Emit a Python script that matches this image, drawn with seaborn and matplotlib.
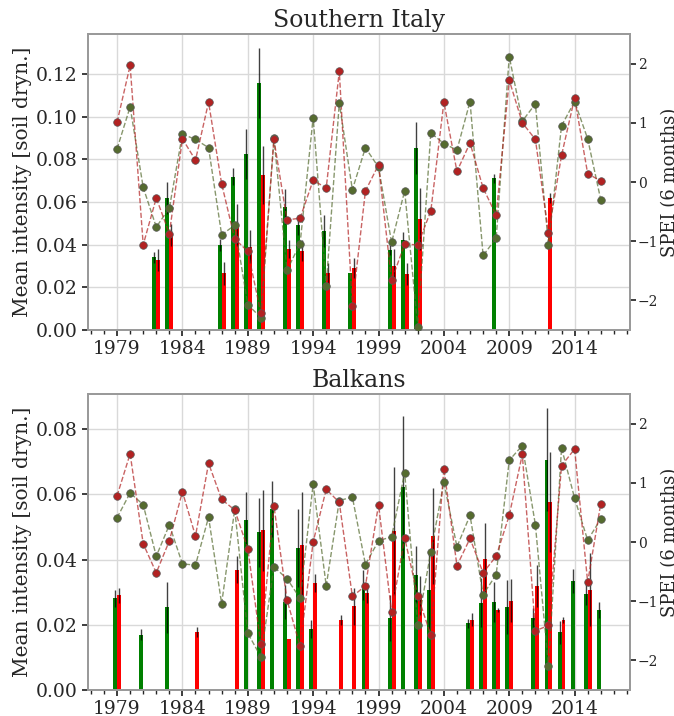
import numpy as np
import pandas as pd
import seaborn as sns
import matplotlib.pyplot as plt
from matplotlib.ticker import MultipleLocator

nan = np.nan
years = np.arange(1979, 2017)

# Southern Italy: mean intensity bars (green / red) with error, SPEI points
italy_green = [nan, nan, nan, 0.0341, 0.0619, nan, nan, nan, 0.0399, 0.0719,
               0.0826, 0.1157, nan, 0.0578, 0.0492, nan, 0.0464, nan, 0.0266, nan,
               nan, 0.0375, 0.0422, 0.0853, nan, nan, nan, nan, nan, 0.0711,
               nan, nan, nan, nan, nan, nan, nan, nan]
italy_green_err = [0, 0, 0, 0.0025, 0.0077, 0, 0, 0, 0.0027, 0.004,
                   0.0117, 0.0164, 0, 0.0082, 0.0047, 0, 0.0075, 0, 0, 0,
                   0, 0.0024, 0.0036, 0.012, 0, 0, 0, 0, 0, 0.002,
                   0, 0, 0, 0, 0, 0, 0, 0]
italy_red = [nan, nan, nan, 0.0328, 0.0446, nan, nan, nan, 0.0266, 0.0492,
             0.039, 0.0727, nan, 0.038, 0.0372, nan, 0.0266, nan, 0.0289, nan,
             nan, 0.0302, 0.0263, 0.0519, nan, nan, nan, nan, nan, nan,
             nan, nan, nan, 0.0618, nan, nan, nan, nan]
italy_red_err = [0, 0, 0, 0.005, 0.005, 0, 0, 0, 0.0055, 0.010,
                 0.0078, 0.0136, 0, 0.0042, 0.005, 0, 0.005, 0, 0.0047, 0,
                 0, 0.0076, 0.005, 0.0146, 0, 0, 0, 0, 0, 0,
                 0, 0, 0, 0.0023, 0, 0, 0, 0]
italy_spei_green = [0.56, 1.27, -0.09, -0.76, -0.44, 0.81, 0.72, 0.58, -0.89, -0.73,
                    -2.07, -2.29, 0.74, -1.49, -1.04, 1.09, -1.75, 1.34, -0.13, 0.58,
                    0.25, -1.02, -0.15, -2.44, 0.83, 0.65, 0.54, 1.36, -1.24, -0.95,
                    2.12, 1.03, 1.32, -1.06, 0.95, 1.36, 0.73, -0.30]
italy_spei_red = [1.01, 1.97, -1.06, -0.27, -0.87, 0.73, 0.37, 1.35, -0.03, -0.96,
                  -1.17, -2.21, 0.72, -0.64, -0.61, 0.03, -0.10, 1.87, -2.09, -0.15,
                  0.29, -1.66, -1.05, -1.06, -0.49, 1.35, 0.18, 0.66, -0.10, -0.56,
                  1.72, 1.00, 0.72, -0.86, 0.45, 1.42, 0.14, 0.02]

# Balkans
balk_green = [0.0281, nan, 0.0170, nan, 0.0253, nan, nan, nan, nan, nan,
              0.0522, 0.0483, 0.0555, 0.0270, 0.0435, 0.0187, nan, nan, nan, 0.0321,
              nan, 0.0221, 0.0622, 0.0354, 0.0306, nan, nan, 0.0204, 0.0267, 0.0269,
              0.0254, nan, 0.0221, 0.0706, 0.0177, 0.0335, 0.0294, 0.0245]
balk_green_err = [0.0027, 0, 0.0018, 0, 0.0078, 0, 0, 0, 0, 0,
                  0.0086, 0.0107, 0.0086, 0.0051, 0.0119, 0.0027, 0, 0, 0, 0.0046,
                  0, 0.007, 0.0217, 0.0087, 0.0118, 0, 0, 0.0015, 0.0075, 0.0062,
                  0.0083, 0, 0.0029, 0.0158, 0.0035, 0.0037, 0.0033, 0.0025]
balk_red = [0.0291, nan, nan, nan, nan, nan, 0.0177, nan, nan, 0.0369,
            nan, 0.0489, nan, 0.0157, 0.0444, 0.0328, nan, 0.0214, 0.0257, 0.0298,
            nan, 0.0487, nan, 0.0289, 0.0472, nan, nan, 0.0216, 0.0401, 0.0245,
            0.0273, nan, 0.0319, 0.0576, 0.0214, nan, 0.0308, nan]
balk_red_err = [0.0023, 0, 0, 0, 0, 0, 0.0015, 0, 0, 0.0041,
                0, 0.0123, 0, 0, 0.0163, 0.0029, 0, 0.0016, 0.0057, 0.003,
                0, 0.0197, 0, 0.006, 0.0148, 0, 0, 0.0019, 0.0112, 0.0005,
                0.0066, 0, 0.0064, 0.0154, 0.001, 0, 0.0112, 0]
balk_spei_green = [0.41, 0.83, 0.63, -0.24, 0.29, -0.37, -0.39, 0.42, -1.04, 0.55,
                   -1.54, -1.94, -0.42, -0.62, -0.95, 0.98, -0.74, 0.70, 0.76, -0.38,
                   0.02, 0.09, 1.17, -1.41, -0.17, 1.01, -0.08, 0.45, -0.89, -0.55,
                   1.38, 1.63, 0.29, -2.10, 1.59, 0.74, 0.03, 0.39]
balk_spei_red = [0.78, 1.49, -0.03, -0.52, 0.02, 0.85, 0.10, 1.33, 0.72, 0.54,
                 -0.11, -1.73, 0.61, -0.98, -1.76, 0.00, 0.89, 0.67, -0.92, -0.74,
                 0.63, -1.18, 0.07, -0.91, -1.57, 1.24, -0.40, 0.06, -0.52, -0.24,
                 0.45, 1.48, -1.50, -1.41, 1.29, 1.57, -0.68, 0.65]

panels = [
    ("Southern Italy", italy_green, italy_green_err, italy_red, italy_red_err,
     italy_spei_green, italy_spei_red),
    ("Balkans", balk_green, balk_green_err, balk_red, balk_red_err,
     balk_spei_green, balk_spei_red),
]

sns.set_theme(style="whitegrid")
plt.rcParams["font.family"] = ["DejaVu Serif"]
plt.rcParams["axes.edgecolor"] = "0.6"
plt.rcParams["grid.color"] = "0.85"
plt.rcParams["xtick.bottom"] = True
plt.rcParams["ytick.left"] = True
plt.rcParams["ytick.right"] = True
plt.rcParams["xtick.color"] = "0.15"
plt.rcParams["ytick.color"] = "0.15"

fig = plt.figure(figsize=(6.74, 7.16), dpi=100)
boxes = [[0.131, 0.539, 0.803, 0.4135], [0.131, 0.0363, 0.803, 0.4134]]

w = 0.3
for (title, g, ge, r, re_, sg, sr), box in zip(panels, boxes):
    ax = fig.add_axes(box)
    g = np.array(g)
    r = np.array(r)
    ax.bar(years - w, g, width=w, align="edge", color="green", linewidth=0)
    ax.bar(years, r, width=w, align="edge", color="red", linewidth=0)
    mg = ~np.isnan(g)
    mr = ~np.isnan(r)
    ax.errorbar(years[mg] - w / 2, g[mg], yerr=np.array(ge)[mg], fmt="none",
                ecolor="black", elinewidth=1, alpha=0.75)
    ax.errorbar(years[mr] + w / 2, r[mr], yerr=np.array(re_)[mr], fmt="none",
                ecolor="black", elinewidth=1, alpha=0.75)
    ax.set_ylim(bottom=0)
    ax.yaxis.set_major_locator(MultipleLocator(0.02))
    ax.yaxis.set_major_formatter(plt.FormatStrFormatter("%.2f"))
    ax.set_xticks(range(1979, 2015, 5))
    ax.xaxis.set_minor_locator(MultipleLocator(1))
    ax.tick_params(axis="x", which="minor", length=3, bottom=True)
    ax.tick_params(axis="both", which="major", length=4, labelsize=13.5)
    ax.set_xlim(1976.8, 2018.2)
    ax.set_ylabel("Mean intensity [soil dryn.]", fontsize=14.5, labelpad=3)
    ax.set_title(title, fontsize=17, pad=5)

    ax2 = ax.twinx()
    df = pd.DataFrame({"year": years, "green": sg, "red": sr})
    for col, c in [("green", "darkolivegreen"), ("red", "firebrick")]:
        sns.lineplot(data=df, x="year", y=col, ax=ax2, color=c,
                     linestyle="--", linewidth=1, alpha=0.7)
        sns.scatterplot(data=df, x="year", y=col, ax=ax2, color=c, s=30,
                        edgecolor="0.35", linewidth=0.5, zorder=3)
    ax2.set_ylim(-2.5, 2.5)
    ax2.set_yticks([-2, -1, 0, 1, 2])
    ax2.grid(False)
    ax2.tick_params(axis="y", length=4, labelsize=10, pad=2)
    ax2.set_ylabel("SPEI (6 months)", fontsize=13, labelpad=2)
    ax2.set_xlabel("")
    ax.set_xlabel("")
    ax2.set_xlim(1976.8, 2018.2)

fig.savefig("out.png", dpi=100)
